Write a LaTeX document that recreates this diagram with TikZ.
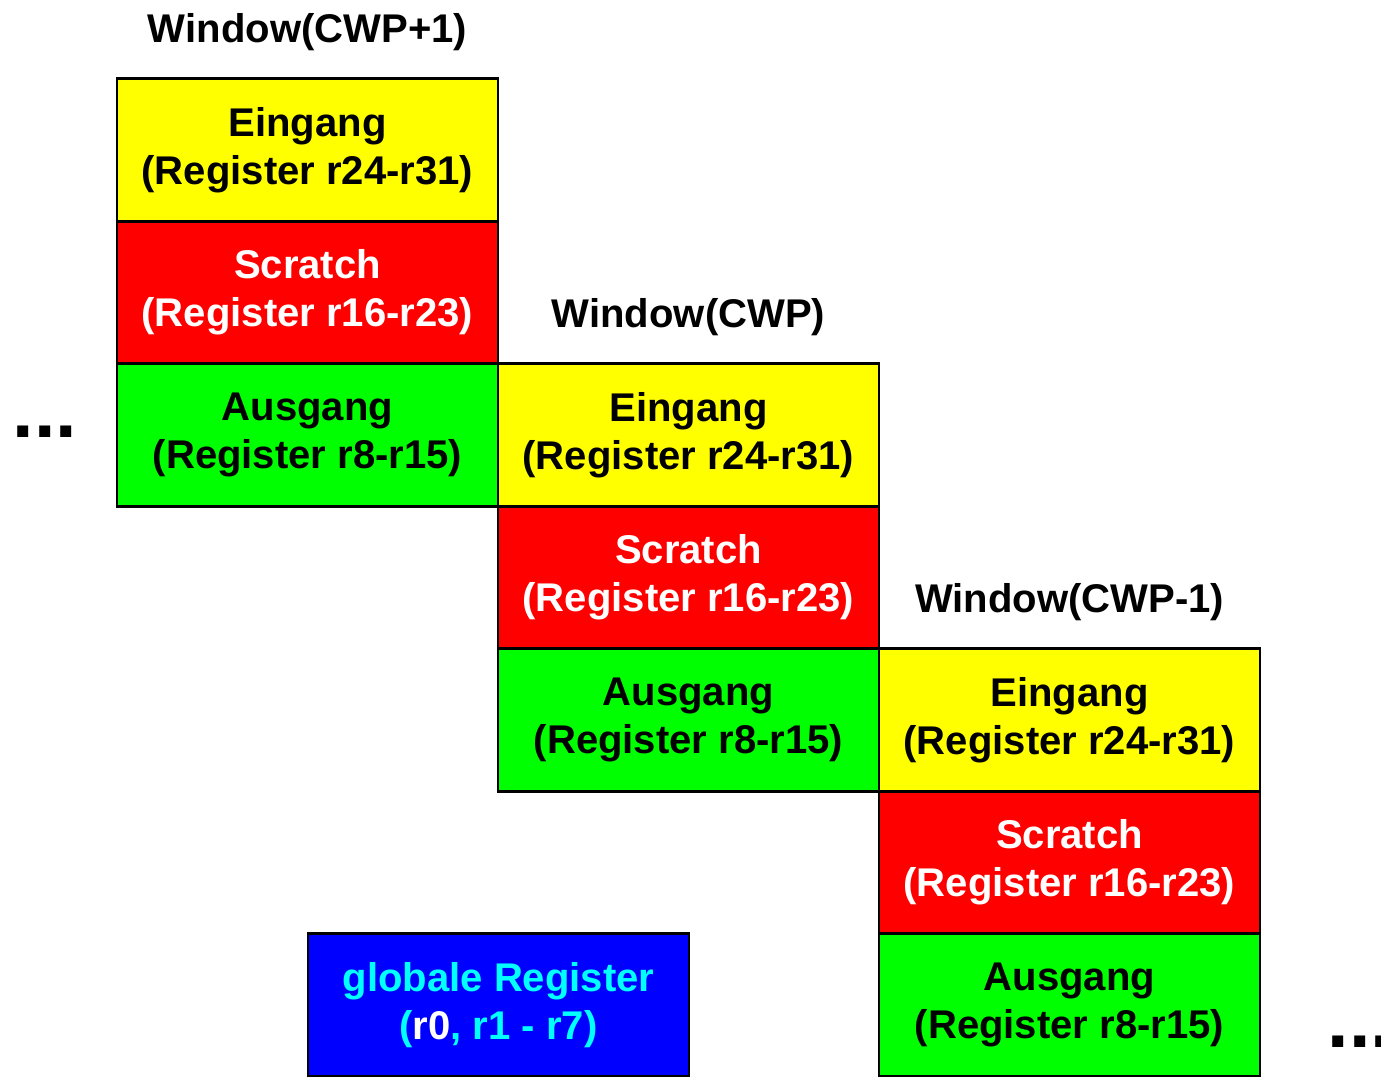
\documentclass[tikz,border=0pt]{standalone}
\usepackage{fontspec}
\setmainfont{Liberation Sans}
\usepackage{xcolor}
\usetikzlibrary{positioning}

\definecolor{regyellow}{RGB}{255,255,0}
\definecolor{regred}{RGB}{255,0,0}
\definecolor{reggreen}{RGB}{0,255,0}
\definecolor{regblue}{RGB}{0,0,255}
\definecolor{regcyan}{RGB}{0,255,255}

\begin{document}
\begin{tikzpicture}[font=\fontsize{11.4}{13.7}\selectfont\bfseries,
  reg/.style={draw, line width=0.8pt, align=center, minimum width=3.81cm, minimum height=1.425cm, inner sep=0pt, outer sep=0pt},
  ein/.style={reg, fill=regyellow},
  scr/.style={reg, fill=regred, text=white},
  aus/.style={reg, fill=reggreen},
  ttl/.style={inner sep=0pt},
  dots/.style={font=\fontsize{22}{22}\selectfont\bfseries, inner sep=0pt}]
\useasboundingbox (0,0) rectangle (13.81,10.76);
% Window(CWP+1)
\node[ein] (e1) at (3.075,9.26) {Eingang\\(Register r24-r31)};
\node[scr, below=0pt of e1] (s1) {Scratch\\(Register r16-r23)};
\node[aus, below=0pt of s1] (a1) {Ausgang\\(Register r8-r15)};
% Window(CWP)
\node[ein, right=0pt of a1] (e2) {Eingang\\(Register r24-r31)};
\node[scr, below=0pt of e2] (s2) {Scratch\\(Register r16-r23)};
\node[aus, below=0pt of s2] (a2) {Ausgang\\(Register r8-r15)};
% Window(CWP-1)
\node[ein, right=0pt of a2] (e3) {Eingang\\(Register r24-r31)};
\node[scr, below=0pt of e3] (s3) {Scratch\\(Register r16-r23)};
\node[aus, below=0pt of s3] (a3) {Ausgang\\(Register r8-r15)};
% titles
\node[ttl, above=0.47cm of e1, anchor=center] (t1) {Window(CWP+1)};
\node[ttl, above=0.47cm of e2, anchor=center] (t2) {Window(CWP)};
\node[ttl, above=0.47cm of e3, anchor=center] (t3) {Window(CWP-1)};
% globals
\node[reg, fill=regblue, text=regcyan, left=1.9cm of a3] (glob) {globale Register\\(\textcolor{white}{r0}, r1 - r7)};
\node[dots] (ldots) at (0.45,6.44) {...};
\node[dots] (rdots) at (13.60,0.34) {...};
\end{tikzpicture}
\end{document}
